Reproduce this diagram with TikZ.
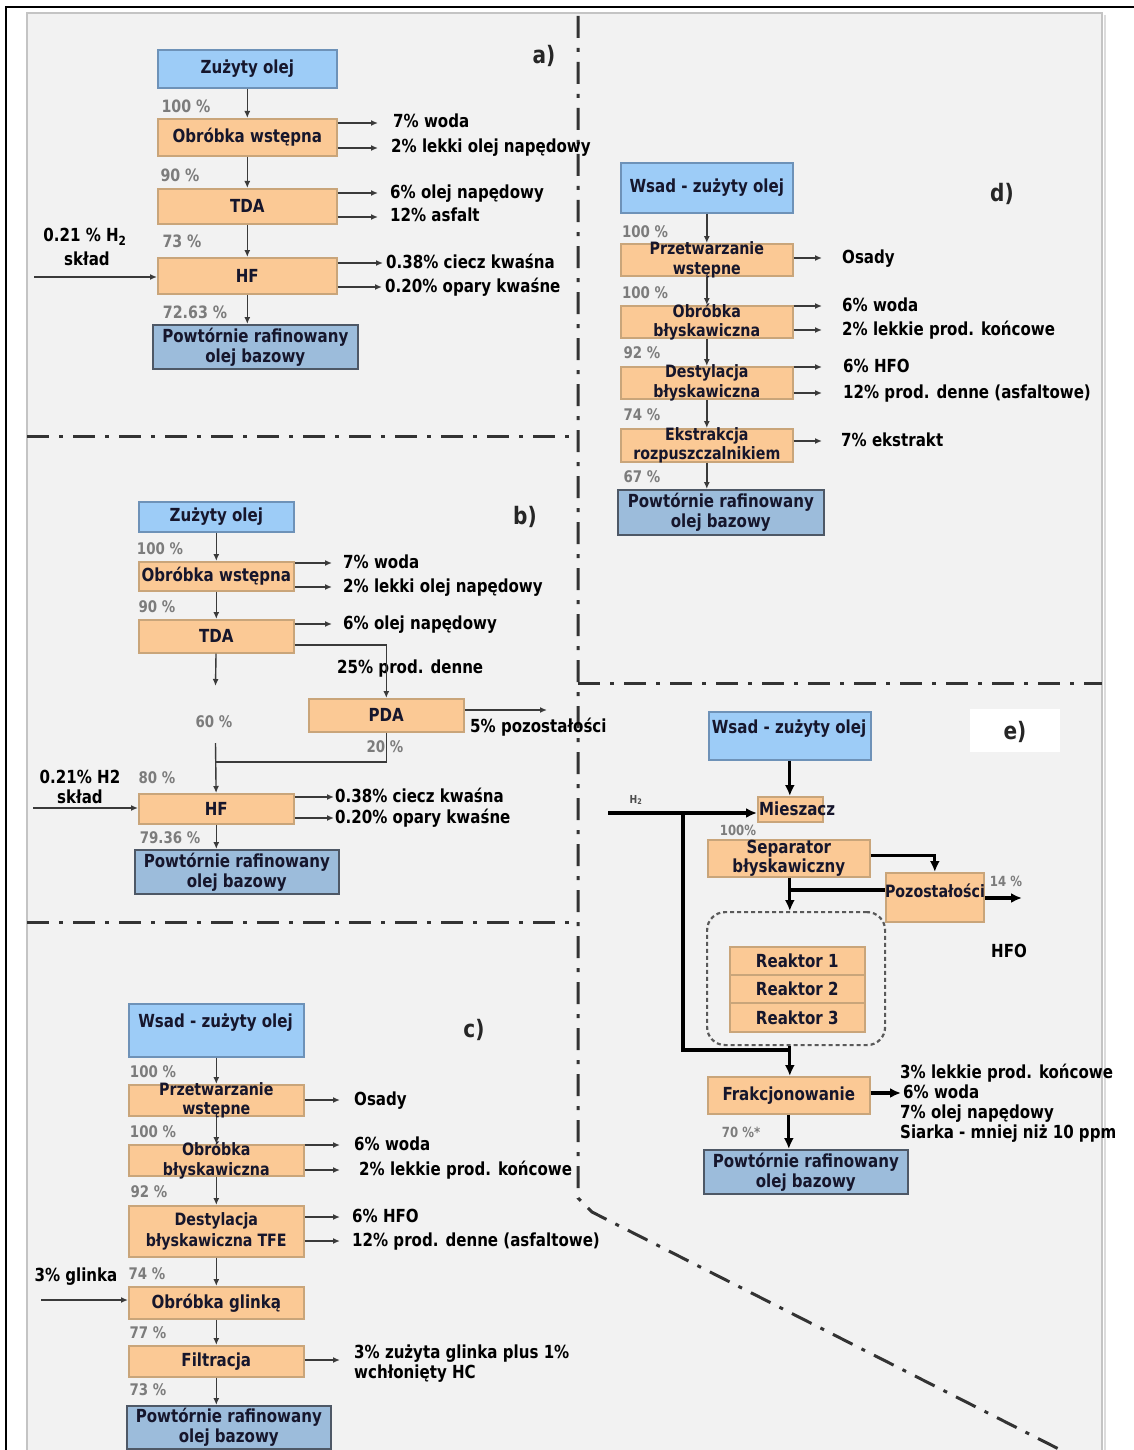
\documentclass[tikz,border=0pt]{standalone}
\usepackage{fontspec}
\setmainfont{DejaVu Sans Condensed}[FakeStretch=0.93]
\usetikzlibrary{arrows.meta}

\definecolor{panelbg}{HTML}{F2F2F2}
\definecolor{edgegray}{HTML}{C4C4C4}
\definecolor{feedfill}{HTML}{9DCCF7}
\definecolor{feeddraw}{HTML}{6E92B8}
\definecolor{procfill}{HTML}{FBC995}
\definecolor{procdraw}{HTML}{C9A57A}
\definecolor{prodfill}{HTML}{9CBCDB}
\definecolor{proddraw}{HTML}{4E5866}
\definecolor{pctgray}{HTML}{7C7C7C}
\definecolor{flowline}{HTML}{3A3A3A}
\definecolor{boxtext}{HTML}{16162C}
\definecolor{divcol}{HTML}{333333}

\tikzset{
  boxbase/.style={inner sep=0pt, line width=1.6pt},
  feed/.style={boxbase, fill=feedfill, draw=feeddraw},
  proc/.style={boxbase, fill=procfill, draw=procdraw},
  prod/.style={boxbase, fill=prodfill, draw=proddraw},
  lbl/.style={font=\fontsize{18}{20}\selectfont\bfseries, inner sep=0pt, text=boxtext},
  lbltwo/.style={font=\fontsize{17}{19.5}\selectfont\bfseries, inner sep=0pt, text=boxtext, align=center},
  outtxt/.style={font=\fontsize{18}{20}\selectfont\bfseries, inner sep=0pt, anchor=west,
                 text height=14pt, text depth=4pt},
  pctA/.style={font=\fontsize{17}{19}\selectfont\bfseries, text=pctgray, inner sep=0pt},
  pctB/.style={font=\fontsize{16}{18}\selectfont\bfseries, text=pctgray, inner sep=0pt},
  tag/.style={font=\fontsize{24}{26}\selectfont\bfseries, text=black!85, inner sep=0pt},
  flow/.style={draw=flowline, line width=1.4pt, -{Latex[length=7pt,width=6pt]}},
  plainline/.style={draw=flowline, line width=1.4pt},
  bigflow/.style={draw=black, line width=3.2pt, -{Latex[length=11pt,width=10pt]}},
  bigline/.style={draw=black, line width=3.2pt},
  divider/.style={draw=divcol, line width=3pt, dash pattern=on 22pt off 10pt on 4pt off 10pt},
  dashframe/.style={draw=black!65, line width=2.2pt, dash pattern=on 4pt off 3pt, rounded corners=18pt, inner sep=0pt},
}

% box given by its top-left and bottom-right corners (pixel grid, y downwards)
\newcommand{\flowbox}[6]{%
  \node[#1, minimum width={(#5)-(#3)}, minimum height={(#6)-(#4)}, anchor=north west] (#2) at (#3,#4) {};}

\begin{document}
\begin{tikzpicture}[x=1pt,y=-1pt]
\useasboundingbox (0,0) rectangle (1134,1450);

% ---------- sheet, panel and frame ----------
\fill[white] (0,0) rectangle (1134,1450);
\fill[panelbg] (27,13) rectangle (1102,1450);
\draw[edgegray, line width=2pt] (27,1450) -- (27,13) -- (1102,13) -- (1102,1450);
\draw[edgegray!60, line width=1.5pt] (1105,15) -- (1105,1450);
\draw[black, line width=1.6pt] (6,1450) -- (6,7) -- (1134,7);

% ---------- section dividers ----------
\begin{scope}
  \clip (27,13) rectangle (1102,1450);
  \draw[divider] (578,16) -- (578,1198) -- (592,1212) -- (1110,1475);
  \draw[divider] (27,436) -- (578,436);
  \draw[divider] (578,683) -- (1102,683);
  \draw[divider] (27,922) -- (578,922);
\end{scope}

% ================= a) =================
\node[tag] (atag) at (544,56) {a)};
\flowbox{feed}{a0}{157}{49}{336}{87}
\flowbox{proc}{a1}{157}{118}{336}{155}
\flowbox{proc}{a2}{157}{188}{336}{223}
\flowbox{proc}{a3}{157}{257}{336}{293}
\flowbox{prod}{a4}{152}{324}{357}{368}
\node[lbl] (a0t) at (a0) {Zużyty olej};
\node[lbl] (a1t) at (a1) {Obróbka wstępna};
\node[lbl] (a2t) at (a2) {TDA};
\node[lbl] (a3t) at (a3) {HF};
\node[lbl, align=center] (a4t) at (a4) {Powtórnie rafinowany\\olej bazowy};
\node[pctA] (a0p) at (186,106) {100 \%};
\node[pctA] (a1p) at (180,175) {90 \%};
\node[pctA] (a2p) at (182,241) {73 \%};
\node[pctA] (a3p) at (195,312) {72.63 \%};
\draw[flow] (a0) -- (a1);
\draw[flow] (a1) -- (a2);
\draw[flow] (a2) -- (a3);
\draw[flow] (a3.south) -- (a3.south |- a4.north);
\node[outtxt] (a1o1) at (393,123) {7\% woda};
\node[outtxt] (a1o2) at (391,148) {2\% lekki olej napędowy};
\node[outtxt] (a2o1) at (390,193) {6\% olej napędowy};
\node[outtxt] (a2o2) at (390,217) {12\% asfalt};
\node[outtxt] (a3o1) at (386,263) {0.38\% ciecz kwaśna};
\node[outtxt] (a3o2) at (385,287) {0.20\% opary kwaśne};
\draw[flow] (a1.east |- a1o1) -- ([xshift=-15pt]a1o1.west);
\draw[flow] (a1.east |- a1o2) -- ([xshift=-13pt]a1o2.west);
\draw[flow] (a2.east |- a2o1) -- ([xshift=-12pt]a2o1.west);
\draw[flow] (a2.east |- a2o2) -- ([xshift=-12pt]a2o2.west);
\draw[flow] (a3.east |- a3o1) -- ([xshift=-3pt]a3o1.west);
\draw[flow] (a3.east |- a3o2) -- ([xshift=-3pt]a3o2.west);
\node[lbl, text=black] (ah2) at (85,237) {0.21 \% H\textsubscript{2}};
\node[lbl, text=black] (ah2b) at (87,259) {skład};
\coordinate (ain) at (34,277);
\draw[flow] (ain) -- (a3.west |- ain);

% ================= b) =================
\node[tag] (btag) at (525,517) {b)};
\flowbox{feed}{b0}{138}{501}{293}{531}
\flowbox{proc}{b1}{138}{561}{293}{590}
\flowbox{proc}{b2}{138}{619}{293}{652}
\flowbox{proc}{b3}{308}{698}{463}{731}
\flowbox{proc}{b4}{138}{793}{293}{823}
\flowbox{prod}{b5}{134}{849}{338}{893}
\node[lbl] (b0t) at (b0) {Zużyty olej};
\node[lbl] (b1t) at (b1) {Obróbka wstępna};
\node[lbl] (b2t) at (b2) {TDA};
\node[lbl] (b3t) at (b3) {PDA};
\node[lbl] (b4t) at (b4) {HF};
\node[lbl, align=center] (b5t) at (b5) {Powtórnie rafinowany\\olej bazowy};
\node[pctB] (b0p) at (160,549) {100 \%};
\node[pctB] (b1p) at (157,607) {90 \%};
\node[pctB] (b2p) at (214,722) {60 \%};
\node[pctB] (b3p) at (385,747) {20 \%};
\node[pctB] (b4p) at (157,778) {80 \%};
\node[pctB] (b5p) at (170,838) {79.36 \%};
\draw[flow] (b0) -- (b1);
\draw[flow] (b1) -- (b2);
\coordinate (b2d) at (215.5,686);
\draw[flow] (b2) -- (b2d);
\coordinate (b60) at (215.5,743);
\draw[flow] (b60) -- (b4);
\draw[flow] (b4.south) -- (b4.south |- b5.north);
\coordinate (b2r) at (387,645);
\node[outtxt] (b2o2) at (337,668) {25\% prod. denne};
\draw[flow] (b2.east |- b2r) -| (b3.north);
\coordinate (bj) at (215.5,762);
\draw[plainline] (b3.south) |- (bj);
\node[outtxt] (b1o1) at (343,563) {7\% woda};
\node[outtxt] (b1o2) at (343,587) {2\% lekki olej napędowy};
\node[outtxt] (b2o1) at (343,624) {6\% olej napędowy};
\draw[flow] (b1.east |- b1o1) -- ([xshift=-11pt]b1o1.west);
\draw[flow] (b1.east |- b1o2) -- ([xshift=-11pt]b1o2.west);
\draw[flow] (b2.east |- b2o1) -- ([xshift=-11pt]b2o1.west);
\coordinate (b3x) at (547,710);
\draw[flow] (b3.east |- b3x) -- (b3x);
\node[outtxt] (b3o1) at (470,727) {5\% pozostałości};
\node[outtxt] (b4o1) at (335,797) {0.38\% ciecz kwaśna};
\node[outtxt] (b4o2) at (335,818) {0.20\% opary kwaśne};
\draw[flow] (b4.east |- b4o1) -- ([xshift=-1pt]b4o1.west);
\draw[flow] (b4.east |- b4o2) -- ([xshift=-1pt]b4o2.west);
\node[lbl, text=black] (bh2) at (80,777) {0.21\% H2};
\node[lbl, text=black] (bh2b) at (80,797) {skład};
\coordinate (bin) at (33,808);
\draw[flow] (bin) -- (b4.west |- bin);

% ================= c) =================
\node[tag] (ctag) at (474,1030) {c)};
\flowbox{feed}{c0}{128}{1003}{303}{1056}
\flowbox{proc}{c1}{128}{1084}{303}{1115}
\flowbox{proc}{c2}{128}{1144}{303}{1175}
\flowbox{proc}{c3}{128}{1205}{303}{1256}
\flowbox{proc}{c4}{128}{1286}{303}{1318}
\flowbox{proc}{c5}{128}{1345}{303}{1376}
\flowbox{prod}{c6}{126}{1405}{330}{1448}
\draw[flow] (c0) -- (c1);
\draw[flow] (c1) -- (c2);
\draw[flow] (c2) -- (c3);
\draw[flow] (c3) -- (c4);
\draw[flow] (c4) -- (c5);
\draw[flow] (c5.south) -- (c5.south |- c6.north);
\node[lbl] (c0t) at (215.5,1023) {Wsad - zużyty olej};
\node[lbltwo] (c1t) at (c1) {Przetwarzanie\\wstępne};
\node[lbltwo] (c2t) at (c2) {Obróbka\\błyskawiczna};
\node[lbltwo, font=\fontsize{17}{21}\selectfont\bfseries] (c3t) at (c3) {Destylacja\\błyskawiczna TFE};
\node[lbl] (c4t) at (c4) {Obróbka glinką};
\node[lbl] (c5t) at (c5) {Filtracja};
\node[lbl, align=center] (c6t) at (c6) {Powtórnie rafinowany\\olej bazowy};
\node[pctB] (c0p) at (153,1072) {100 \%};
\node[pctB] (c1p) at (153,1132) {100 \%};
\node[pctB] (c2p) at (149,1192) {92 \%};
\node[pctB] (c3p) at (147,1274) {74 \%};
\node[pctB] (c4p) at (148,1333) {77 \%};
\node[pctB] (c5p) at (148,1390) {73 \%};
\node[outtxt] (c1o1) at (354,1100) {Osady};
\node[outtxt] (c2o1) at (354,1145) {6\% woda};
\node[outtxt] (c2o2) at (359,1170) {2\% lekkie prod. końcowe};
\node[outtxt] (c3o1) at (352,1217) {6\% HFO};
\node[outtxt] (c3o2) at (352,1241) {12\% prod. denne (asfaltowe)};
\node[outtxt, text height=, text depth=, align=left, font=\fontsize{18}{20}\selectfont\bfseries] (c5o1) at (354,1364) {3\% zużyta glinka plus 1\%\\wchłonięty HC};
\draw[flow] (c1.east |- c1o1) -- ([xshift=-14pt]c1o1.west);
\draw[flow] (c2.east |- c2o1) -- ([xshift=-14pt]c2o1.west);
\draw[flow] (c2.east |- c2o2) -- ([xshift=-19pt]c2o2.west);
\draw[flow] (c3.east |- c3o1) -- ([xshift=-12pt]c3o1.west);
\draw[flow] (c3.east |- c3o2) -- ([xshift=-12pt]c3o2.west);
\coordinate (c5x) at (340,1360);
\draw[flow] (c5.east |- c5x) -- (c5x);
\node[lbl, text=black] (cgl) at (76,1277) {3\% glinka};
\coordinate (cin) at (41,1300);
\draw[flow] (cin) -- (c4.west |- cin);

% ================= d) =================
\node[tag] (dtag) at (1002,194) {d)};
\flowbox{feed}{d0}{620}{162}{792}{212}
\flowbox{proc}{d1}{620}{243}{792}{275}
\flowbox{proc}{d2}{620}{305}{792}{337}
\flowbox{proc}{d3}{620}{366}{792}{398}
\flowbox{proc}{d4}{620}{428}{792}{461}
\flowbox{prod}{d5}{617}{489}{823}{534}
\draw[flow] (d0) -- (d1);
\draw[flow] (d1) -- (d2);
\draw[flow] (d2) -- (d3);
\draw[flow] (d3) -- (d4);
\draw[flow] (d4.south) -- (d4.south |- d5.north);
\node[lbl] (d0t) at (d0) {Wsad - zużyty olej};
\node[lbltwo] (d1t) at (d1) {Przetwarzanie\\wstępne};
\node[lbltwo] (d2t) at (d2) {Obróbka\\błyskawiczna};
\node[lbltwo] (d3t) at (d3) {Destylacja\\błyskawiczna};
\node[lbltwo] (d4t) at (d4) {Ekstrakcja\\rozpuszczalnikiem};
\node[lbl, align=center] (d5t) at (d5) {Powtórnie rafinowany\\olej bazowy};
\node[pctB] (d0p) at (645,232) {100 \%};
\node[pctB] (d1p) at (645,293) {100 \%};
\node[pctB] (d2p) at (642,353) {92 \%};
\node[pctB] (d3p) at (642,415) {74 \%};
\node[pctB] (d4p) at (642,477) {67 \%};
\node[outtxt] (d1o1) at (842,258) {Osady};
\node[outtxt] (d2o1) at (842,306) {6\% woda};
\node[outtxt] (d2o2) at (842,330) {2\% lekkie prod. końcowe};
\node[outtxt] (d3o1) at (843,367) {6\% HFO};
\node[outtxt] (d3o2) at (843,393) {12\% prod. denne (asfaltowe)};
\node[outtxt] (d4o1) at (841,441) {7\% ekstrakt};
\draw[flow] (d1.east |- d1o1) -- ([xshift=-20pt]d1o1.west);
\draw[flow] (d2.east |- d2o1) -- ([xshift=-20pt]d2o1.west);
\draw[flow] (d2.east |- d2o2) -- ([xshift=-20pt]d2o2.west);
\draw[flow] (d3.east |- d3o1) -- ([xshift=-21pt]d3o1.west);
\draw[flow] (d3.east |- d3o2) -- ([xshift=-21pt]d3o2.west);
\draw[flow] (d4.east |- d4o1) -- ([xshift=-19pt]d4o1.west);

% ================= e) =================
\fill[white] (970,709) rectangle (1060,752);
\node[tag] (etag) at (1015,732) {e)};
\flowbox{feed}{e0}{708}{711}{870}{759}
\flowbox{proc}{e1}{757}{796}{822}{821}
\flowbox{proc}{e2}{707}{839}{869}{876}
\flowbox{proc}{e3}{885}{872}{983}{921}
\node[dashframe, minimum width=178pt, minimum height=133pt, anchor=north west] (er) at (706,911) {};
\flowbox{proc}{e4}{729}{946}{864}{974}
\flowbox{proc}{e5}{729}{974}{864}{1002}
\flowbox{proc}{e6}{729}{1002}{864}{1031}
\flowbox{proc}{e7}{707}{1076}{869}{1113}
\flowbox{prod}{e8}{703}{1149}{907}{1193}
\node[lbl] (e0t) at (789,729) {Wsad - zużyty olej};
\node[lbl, anchor=west] (e1t) at (759,809) {Mieszacz};
\node[lbl, align=center, font=\fontsize{18}{19}\selectfont\bfseries] (e2t) at (e2) {Separator\\błyskawiczny};
\node[lbl, font=\fontsize{17}{19}\selectfont\bfseries] (e3t) at (935,891) {Pozostałości};
\node[lbl] (e4t) at (e4) {Reaktor 1};
\node[lbl] (e5t) at (e5) {Reaktor 2};
\node[lbl] (e6t) at (e6) {Reaktor 3};
\node[lbl] (e7t) at (e7) {Frakcjonowanie};
\node[lbl, align=center] (e8t) at (e8) {Powtórnie rafinowany\\olej bazowy};
% feed and hydrogen
\draw[bigflow] (e0.south) -- (e0.south |- e1.north);
\coordinate (eh2) at (608,813);
\draw[bigflow] (eh2) -- (e1.west |- eh2);
\node[font=\fontsize{11}{12}\selectfont\bfseries, text=black!70, inner sep=0pt] (eh2t) at (636,800) {H\textsubscript{2}};
\coordinate (ebr) at (683,813);
\coordinate (ebj) at (789,1050);
\draw[bigline] (ebr) |- (ebj);
\node[pctB, font=\fontsize{14}{16}\selectfont\bfseries] (e1p) at (738,830) {100\%};
% flash separator, residue branch
\draw[bigflow] ([yshift=3pt]e2.east) -| (e3.north);
\draw[bigflow] (e0.south |- e2.south) -- (e0.south |- er.north);
\coordinate (ejn) at (885,890);
\draw[bigline] (e0.south |- ejn) -- (ejn);
\coordinate (e3x) at (1022,898);
\draw[bigflow] (e3.east |- e3x) -- (e3x);
\node[pctB, font=\fontsize{14}{16}\selectfont\bfseries] (e3p) at (1006,881) {14 \%};
\node[lbl, text=black] (ehfo) at (1009,951) {HFO};
% reactors to fractionation
\draw[bigflow] (e0.south |- er.south) -- (e0.south |- e7.north);
\coordinate (e7x) at (901,1093);
\draw[bigflow] (e7.east |- e7x) -- (e7x);
\node[outtxt] (e7o1) at (900,1073) {3\% lekkie prod. końcowe};
\node[outtxt] (e7o2) at (903,1093) {6\% woda};
\node[outtxt] (e7o3) at (900,1113) {7\% olej napędowy};
\node[outtxt] (e7o4) at (900,1133) {Siarka - mniej niż 10 ppm};
\node[pctB, font=\fontsize{14}{16}\selectfont\bfseries] (e7p) at (741,1132) {70 \%*};
\draw[bigflow] (e7.south) -- (e7.south |- e8.north);

\end{tikzpicture}
\end{document}
